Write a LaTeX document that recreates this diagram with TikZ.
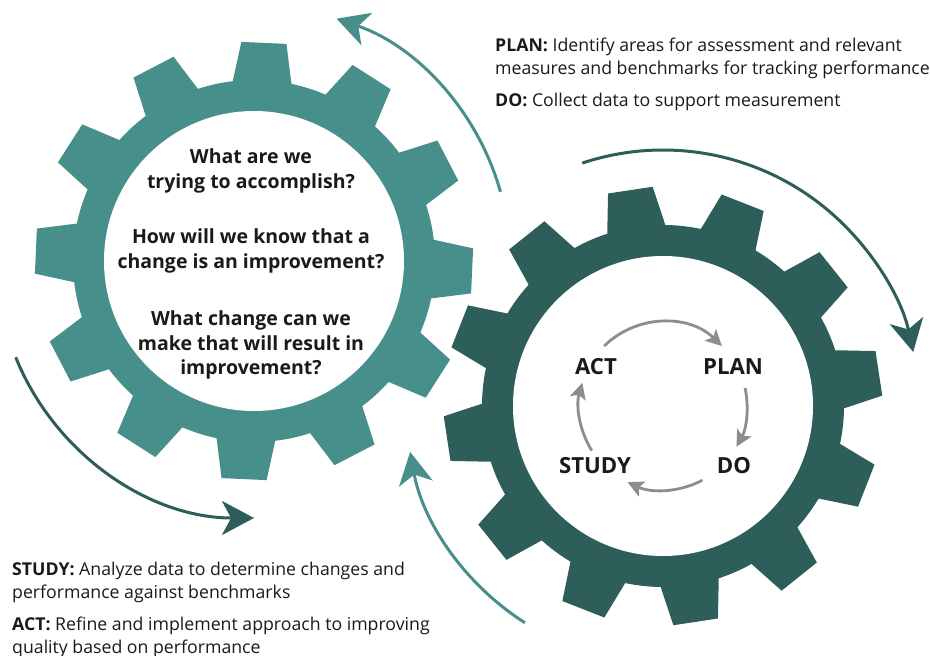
\documentclass[tikz,border=0pt]{standalone}
\usepackage{fontspec}
\setmainfont{Open Sans}
\usetikzlibrary{arrows.meta}

\definecolor{gearA}{HTML}{468F8A}
\definecolor{gearB}{HTML}{2D5E59}
\definecolor{cyc}{HTML}{8B8D90}
\definecolor{ink}{HTML}{1A1A1A}

% gear: centre name, tooth offset angle, colour
\newcommand\drawgear[3]{%
  \fill[#3] (#1) circle[radius=181];
  \foreach \k in {0,...,11}{%
    \pgfmathsetmacro\t{#2+30*\k}%
    \fill[#3, shift={(#1)}] (\t-9.9:176) -- (\t-5.9:219.5) -- (\t+5.9:219.5) -- (\t+9.9:176) -- cycle;
  }
  \fill[white] (#1) circle[radius=150];
}

\begin{document}
\begin{tikzpicture}[x=1pt,y=-1pt,
  body/.style={font=\fontsize{17.7}{21}\selectfont, text=ink, inner sep=0pt, anchor=base west},
  question/.style={font=\bfseries\fontsize{19.5}{23}\selectfont, text=ink, inner sep=0pt, anchor=base},
  stage/.style={font=\bfseries\fontsize{22.2}{26}\selectfont, text=ink, inner sep=0pt, anchor=base},
  bigarrow/.style={line width=3pt, -{Stealth[length=32pt,width=34pt,inset=9pt]}},
  cycarrow/.style={cyc, line width=2.8pt, -{Stealth[length=16pt,width=16pt,inset=3.5pt]}},
]
\useasboundingbox (0,0) rectangle (930,656);

\coordinate (L) at (254,261);
\coordinate (R) at (663,406);

% the two gears
\drawgear{L}{2.6}{gearA}
\drawgear{R}{-8.6}{gearB}

% arcs turning round the gears
\draw[bigarrow, gearA] ([shift={(-15.7:256)}]L) arc[start angle=-15.7, end angle=-71.2, radius=256];
\draw[bigarrow, gearB] ([shift={(-108.4:256)}]R) arc[start angle=-108.4, end angle=-12.2, radius=256];
\draw[bigarrow, gearB] ([shift={(158:257)}]L) arc[start angle=158, end angle=90, radius=257];
\draw[bigarrow, gearA] ([shift={(122.5:257)}]R) arc[start angle=122.5, end angle=169.7, radius=257];

% questions inside the left gear
\node[question] (q1a) at (251,163) {What are we};
\node[question] (q1b) at (251,188) {trying to accomplish?};
\node[question] (q2a) at (251,243) {How will we know that a};
\node[question] (q2b) at (251,268) {change is an improvement?};
\node[question] (q3a) at (251,325) {What change can we};
\node[question] (q3b) at (251,350) {make that will result in};
\node[question] (q3c) at (251,374) {improvement?};

% PDSA cycle inside the right gear
\node[stage] (act)   at (596,374) {ACT};
\node[stage] (plan)  at (733,374) {PLAN};
\node[stage] (study) at (595,473) {STUDY};
\node[stage] (do)    at (734,473) {DO};
\draw[cycarrow] ([shift={(-134.5:84)}]R) arc[start angle=-134.5, end angle=-45.5, radius=84];
\draw[cycarrow] ([shift={(-12.4:84)}]R) arc[start angle=-12.4, end angle=29, radius=84];
\draw[cycarrow] ([shift={(62:84)}]R) arc[start angle=62, end angle=115, radius=84];
\draw[cycarrow] ([shift={(148:84)}]R) arc[start angle=148, end angle=196, radius=84];

% step descriptions
\node[body] (pl1) at (495,51) {\textbf{PLAN:} Identify areas for assessment and relevant};
\node[body] (pl2) at (495,74) {measures and benchmarks for tracking performance};
\node[body] (do1) at (495,106) {\textbf{DO:} Collect data to support measurement};
\node[body] (st1) at (12,575) {\textbf{STUDY:} Analyze data to determine changes and};
\node[body] (st2) at (12,598) {performance against benchmarks};
\node[body] (ac1) at (12,630) {\textbf{ACT:} Refine and implement approach to improving};
\node[body] (ac2) at (12,653) {quality based on performance};
\end{tikzpicture}
\end{document}
